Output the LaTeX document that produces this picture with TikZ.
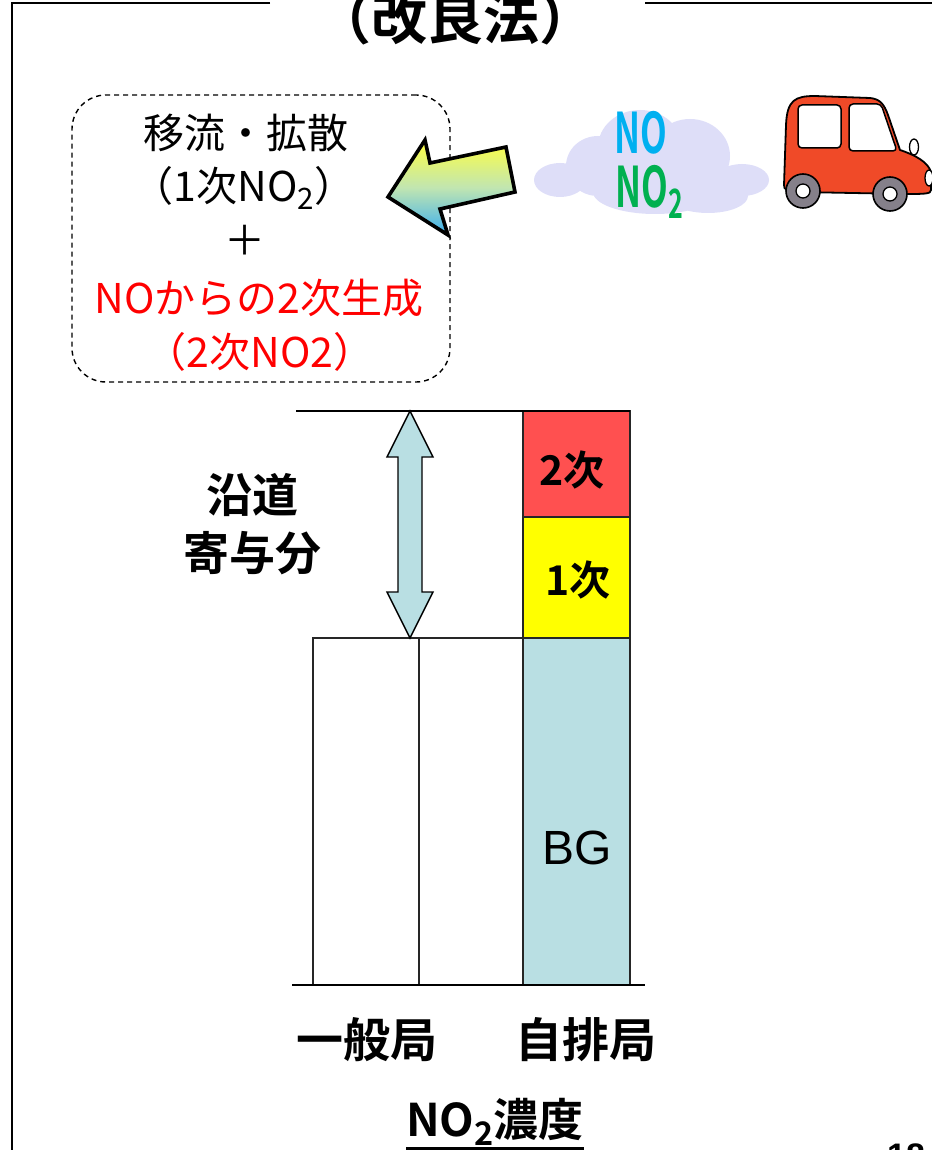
\documentclass[tikz,border=0pt]{standalone}
\usepackage{fontspec}
\setmainfont{Noto Sans CJK JP}[BoldFont={* Bold}]
\newfontfamily\latin{Liberation Sans}
\usetikzlibrary{calc}
\definecolor{bgblue}{HTML}{B9DFE3}
\definecolor{secred}{HTML}{FF5050}
\definecolor{priyel}{HTML}{FFFF00}
\definecolor{nocyan}{HTML}{00B0F0}
\definecolor{nogreen}{HTML}{00B050}
\definecolor{txtred}{HTML}{FF0000}
\definecolor{cloudc}{HTML}{DEDEF8}
\definecolor{carred}{HTML}{F04A28}
\definecolor{tyre}{HTML}{85808A}
\definecolor{arrtop}{HTML}{FFFF40}
\definecolor{arrbot}{HTML}{3AAEF0}
\newcommand{\lowtwo}{\raisebox{-0.35ex}{\scalebox{0.72}{2}}}
\begin{document}
\begin{tikzpicture}[x=1pt,y=-1pt,
  every node/.style={inner sep=0pt,outer sep=0pt},
  frameline/.style={line width=2pt,black},
  boxtxt/.style={font=\fontsize{41}{44}\selectfont},
  bigbold/.style={font=\bfseries\fontsize{46}{50}\selectfont},
  barbox/.style={draw=black!85,line width=1.4pt},
  chartline/.style={line width=1.6pt,black},
  gastxt/.style={font=\bfseries\fontsize{56}{60}\selectfont,xscale=0.62}]
\useasboundingbox (0,0) rectangle (931,1150);

% outer frame and title
\draw[frameline] (270,3) -- (12,3) -- (12,1152);
\draw[frameline] (645,3) -- (933,3);
\node[font=\bfseries\fontsize{56}{60}\selectfont] (title) at (455,18) {（改良法）};

% dashed explanation box
\node[draw,dashed,dash pattern=on 5pt off 4pt,line width=1.4pt,rounded corners=34pt,
      minimum width=378pt,minimum height=287pt] (expl) at (261,238.5) {};
\node[boxtxt] (l1) at (246,133) {移流・拡散};
\node[boxtxt] (l2) at (244,188) {（1次NO\lowtwo）};
\node[boxtxt] (l3) at (245,240) {＋};
\node[boxtxt,text=txtred] (l4) at (259,298) {NOからの2次生成};
\node[boxtxt,text=txtred] (l5) at (260,352) {（2次NO2）};

% gradient arrow toward the box
\shadedraw[top color=arrtop,bottom color=arrbot,middle color=arrtop!55!arrbot!70!white,
  line width=3.6pt,line join=miter]
  (388,197) -- (425,140) -- (430,163) -- (506,147) -- (515,192) -- (440,209) -- (448,235) -- cycle;

% exhaust cloud
\fill[cloudc]
  (560,180) ellipse [x radius=26,y radius=17]
  (598,166) ellipse [x radius=32,y radius=30]
  (640,147) ellipse [x radius=42,y radius=37]
  (690,156) ellipse [x radius=40,y radius=37]
  (655,192) ellipse [x radius=62,y radius=22]
  (742,180) ellipse [x radius=27,y radius=16]
  (708,196) ellipse [x radius=40,y radius=17];
\node[gastxt,text=nocyan] (no) at (641,133) {NO};
\node[gastxt,text=nogreen] (no2) at (649,192) {NO\lowtwo};

% car
\draw[fill=carred,line width=1.8pt,line join=round]
  (784,185) -- (786,125) .. controls (787,100) and (795,96) .. (815,96)
  -- (870,98) .. controls (880,99) and (884,104) .. (888,115)
  -- (900,150) .. controls (915,155) and (928,162) .. (931,172)
  -- (931,190) .. controls (931,194) and (925,194) .. (905,194)
  -- (800,192) .. controls (786,191) and (784,190) .. (784,185) -- cycle;
\draw[fill=white,line width=1.5pt,rounded corners=4pt] (798,105) rectangle (841,148);
\draw[fill=white,line width=1.5pt,rounded corners=4pt] (849,104) -- (881,104) -- (897,151) -- (849,151) -- cycle;
\draw[fill=white,line width=1.3pt] (914,147) ellipse [x radius=4.5,y radius=8];
\draw[fill=white,line width=1.3pt] (929,178) ellipse [x radius=4,y radius=8];
\foreach \wx/\wy in {803/191,890/194}{
  \draw[fill=tyre,line width=1.6pt] (\wx,\wy) circle (17);
  \draw[fill=white,line width=1.3pt] (\wx,\wy) circle (7);
}

% bar chart
\fill[white] (313,638) rectangle (523,985);
\draw[barbox] (313,638) rectangle (419,985);
\draw[barbox] (419,638) rectangle (523,985);
\draw[barbox,fill=bgblue] (523,638) rectangle (630,985);
\draw[barbox,fill=priyel] (523,517) rectangle (630,638);
\draw[barbox,fill=secred] (523,411) rectangle (630,517);
\coordinate (ltop) at (296,411);
\coordinate (rtop) at (630,411);
\draw[chartline] (ltop) -- (rtop);
\coordinate (base l) at (292,985);
\coordinate (base r) at (645,985);
\draw[chartline] (base l) -- (base r);

\node[font=\bfseries\fontsize{41}{44}\selectfont] (sec) at (572,470) {2次};
\node[font=\bfseries\fontsize{41}{44}\selectfont] (pri) at (578,580) {1次};
\node[font=\latin\fontsize{48}{52}\selectfont] (bg) at (577,848) {BG};

% double arrow for the roadside contribution
\coordinate (at) at (410,411);
\coordinate (ab) at (410,638);
\draw[fill=bgblue,line width=1.4pt,line join=miter]
  (at) -- ($(at)+(23,46)$) -- ($(at)+(12,46)$) -- ($(ab)+(12,-46)$) -- ($(ab)+(23,-46)$)
  -- (ab) -- ($(ab)+(-23,-46)$) -- ($(ab)+(-12,-46)$) -- ($(at)+(-12,46)$) -- ($(at)+(-23,46)$) -- cycle;

\node[bigbold] (road1) at (252,495) {沿道};
\node[bigbold] (road2) at (252,553) {寄与分};

% axis labels
\node[bigbold,font=\bfseries\fontsize{47}{50}\selectfont] (gen) at (367,1040) {一般局};
\node[bigbold,font=\bfseries\fontsize{47}{50}\selectfont] (auto) at (586,1040) {自排局};
\node[bigbold,font=\bfseries\fontsize{45}{48}\selectfont] (conc) at (495,1122) {NO\lowtwo 濃度};
\draw[line width=2.4pt] ($(conc.south west)+(0,3)$) -- ($(conc.south east)+(0,3)$);
\node[font=\bfseries\latin\fontsize{34}{38}\selectfont] (page) at (906,1156) {18};
\end{tikzpicture}
\end{document}
